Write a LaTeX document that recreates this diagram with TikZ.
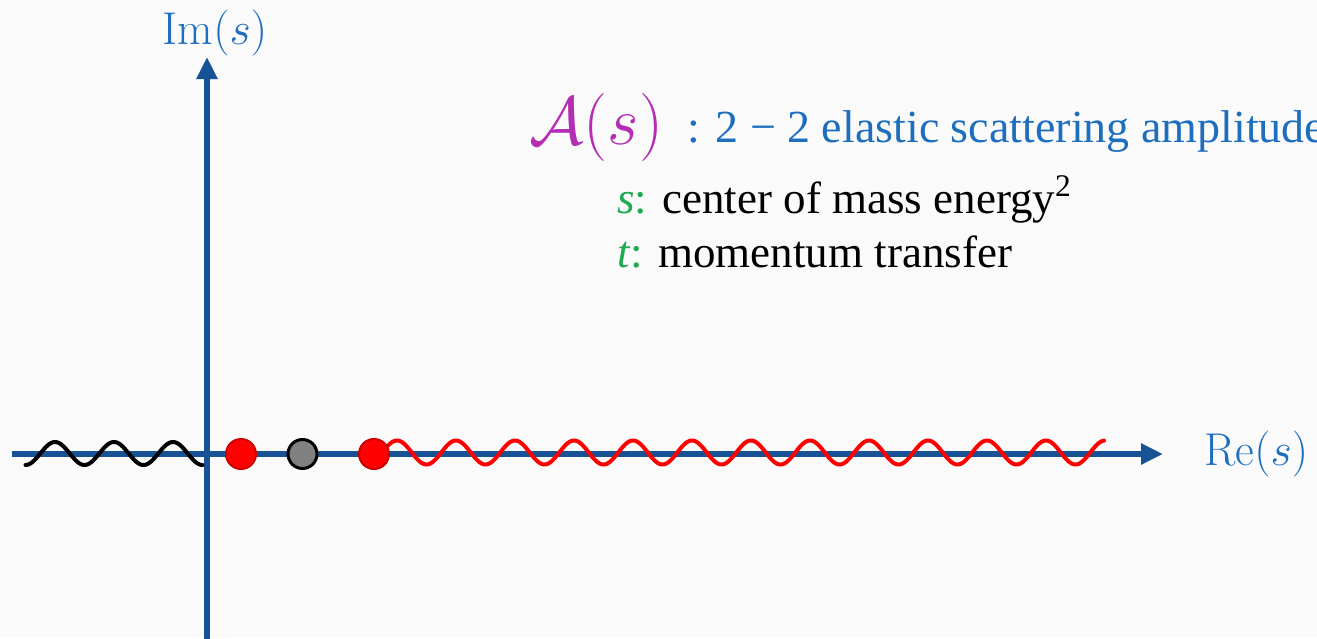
\RequirePackage{fix-cm}
\documentclass[tikz,border=0pt]{standalone}
\usepackage{fontspec}
\usetikzlibrary{arrows.meta}
\newfontfamily\tnr{Liberation Serif}
\definecolor{axisblue}{RGB}{24,82,150}
\definecolor{lblue}{RGB}{30,110,190}
\definecolor{ampmag}{RGB}{180,45,180}
\definecolor{sgreen}{RGB}{30,170,80}
\definecolor{bgcol}{RGB}{250,250,250}
\definecolor{dotedge}{RGB}{205,0,0}
\tikzset{
  axis/.style={line width=3pt, draw=axisblue, -{Triangle[length=11pt,width=10pt]}},
  wave/.style={line width=2pt, line cap=round, line join=round},
  reddot/.style={circle, fill=red, draw=dotedge, line width=1pt, minimum size=15pt, inner sep=0pt},
  graydot/.style={circle, fill={rgb,255:red,128;green,128;blue,128}, draw=black, line width=1.5pt, minimum size=14.5pt, inner sep=0pt},
  lbl/.style={inner sep=0pt, text=lblue, font=\fontsize{23}{28}\selectfont},
  txt/.style={inner sep=0pt, anchor=base west}
}
\begin{document}
\begin{tikzpicture}[x=0.5pt,y=-0.5pt]
\useasboundingbox (0,0) rectangle (1317,638);
\clip (0,0) rectangle (1317,638);
\fill[bgcol] (0,0) rectangle (1317,638);
% axes
\coordinate (xs) at (12,454);
\coordinate (xe) at (1163,454);
\coordinate (ys) at (207,645);
\coordinate (ye) at (207,57);
\draw[axis] (xs) -- (xe);
\draw[axis] (ys) -- (ye);
% waves
\draw[wave, black] plot[domain=25.5:202.5, samples=150, smooth] (\x, {453.5+11.5*cos(6.10169*(\x-25.5))});
\draw[wave, red] plot[domain=380:1104, samples=500, smooth] (\x, {452.5-12*cos(6.10169*(\x-397))});
% points
\node[reddot] (p1) at (241,454) {};
\node[graydot] (p2) at (302.5,454) {};
\node[reddot] (p3) at (374,454) {};
% axis labels
\node[lbl, anchor=base] (im) at (215,44) {$\mathrm{Im}(s)$};
\node[lbl, anchor=base west] (re) at (1204,465) {$\mathrm{Re}(s)$};
% texts
\node[txt, text=ampmag, font=\fontsize{34}{40}\selectfont] (amp) at (529,144) {$\mathcal{A}(s)$};
\node[txt, text=lblue, font=\tnr\fontsize{23}{28}\selectfont] (desc) at (687,142) {: 2 − 2 elastic scattering amplitude};
\node[txt, font=\tnr\fontsize{22.5}{27}\selectfont] (sdef) at (617,213) {\textcolor{sgreen}{\textit{s}:} center of mass energy\textsuperscript{2}};
\node[txt, font=\tnr\fontsize{22.5}{27}\selectfont] (tdef) at (617,267) {\textcolor{sgreen}{\textit{t}:} momentum transfer};
\end{tikzpicture}
\end{document}
